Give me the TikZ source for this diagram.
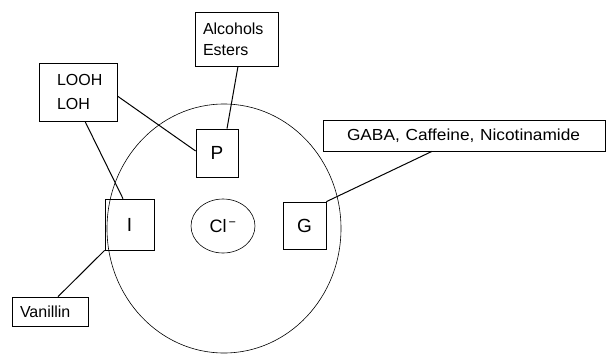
\documentclass[tikz,border=0pt]{standalone}
\usepackage{fontspec}
\setmainfont{Liberation Sans}
\usetikzlibrary{shapes.geometric}
\begin{document}
\begin{tikzpicture}[x=1pt,y=-1pt,
  box/.style={draw, rectangle, line width=0.7pt, inner ysep=0pt, align=left,
    font=\fontsize{16}{24}\selectfont},
  letterbox/.style={draw, rectangle, line width=0.7pt, inner sep=0pt,
    font=\fontsize{19}{22}\selectfont},
  link/.style={line width=1pt},
  cell/.style={draw, ellipse, line width=0.6pt, inner sep=0pt}]
\useasboundingbox (0,0) rectangle (607,354);
% big circle
\node[cell, minimum width=234pt, minimum height=249pt] (cell) at (224,228.5) {};
\node[cell, minimum width=64pt, minimum height=54pt,
  font=\fontsize{18}{20}\selectfont] (cl) at (223,226) {Cl\textsuperscript{\,−}};
% boxes
\node[box, minimum width=78pt, minimum height=58pt, inner xsep=18pt, text width=42pt] (looh) at (78,92) {LOOH\\LOH};
\node[box, minimum width=83pt, minimum height=54pt, inner xsep=8pt, text width=67pt,
  font=\fontsize{16}{21}\selectfont] (alc) at (236.5,39) {Alcohols\\Esters};
\node[box, minimum width=282pt, minimum height=31pt, inner xsep=24pt, text width=234pt] (gaba) at (464,135.5)
  {\scalebox{1.08}[1]{GABA, Caffeine, Nicotinamide}};
\node[box, minimum width=76pt, minimum height=29pt, inner xsep=8pt, text width=60pt] (van) at (50,311.5) {Vanillin};
\node[letterbox, minimum width=42pt, minimum height=48pt] (p) at (217,153) {P};
\node[letterbox, minimum width=49pt, minimum height=51pt] (i) at (129.5,224.5) {I};
\node[letterbox, minimum width=43pt, minimum height=47pt] (g) at (304.5,225.5) {G};
% connectors
\draw[link] ([yshift=-4pt]looh.east) -- ([yshift=2pt]p.west);
\draw[link] ([xshift=7pt]looh.south) -- ([xshift=-6.5pt]i.north);
\draw[link] ([xshift=1.5pt]alc.south) -- ([xshift=10pt]p.north);
\draw[link] ([xshift=-32pt]gaba.south) -- (g.north east);
\draw[link] (i.south west) -- ([xshift=8pt]van.north);
\end{tikzpicture}
\end{document}
